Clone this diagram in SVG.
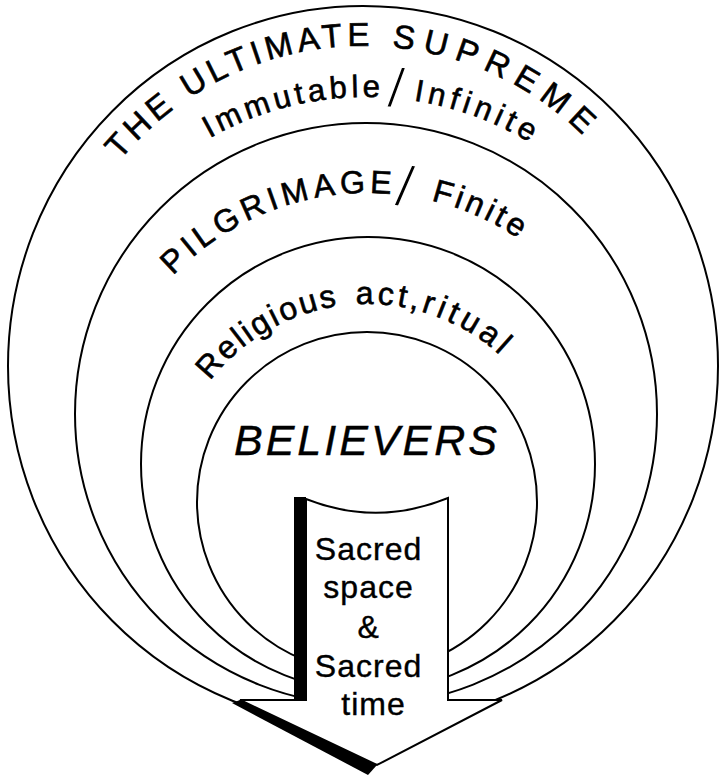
<svg xmlns="http://www.w3.org/2000/svg" width="720" height="776" viewBox="0 0 720 776">
<style>
.ring{fill:none;stroke:#000;stroke-width:2}
.lbl{font-family:"Liberation Sans",Arial,Helvetica,sans-serif;fill:#000;stroke:#000;stroke-width:0.6px}
.arc33{font-size:33px}
.arc31{font-size:31px}
.arc32{font-size:32px}
.slash{stroke:#fff;stroke-width:1.4px}
.big{font-size:43px;font-style:italic;letter-spacing:3px;stroke-width:0.4px}
.inner{font-size:32px;letter-spacing:1px;stroke-width:0.4px}
.shadow{fill:#000;stroke:none}
.arrowbody{fill:#fff;stroke:#000;stroke-width:2;stroke-linejoin:miter}
</style>
<defs>
<path id="p1" d="M 48 361 A 315 315 0 0 1 678 361"/>
<path id="p2" d="M 49 414 A 317 317 0 0 1 683 414"/>
<path id="p3" d="M 97 464 A 271 271 0 0 1 639 464"/>
<path id="p4" d="M 169 502 A 198 198 0 0 1 565 502"/>
</defs>
<rect width="720" height="776" fill="#fff"/>

<g id="ring-supreme">
<ellipse class="ring" cx="363" cy="366" rx="355" ry="360"/>
<text class="lbl arc33"><textPath href="#p1" startOffset="217"><tspan letter-spacing="4.6">THE ULTIMATE</tspan><tspan letter-spacing="8.5"> SUPREME</tspan></textPath></text>
<text class="lbl arc31"><textPath href="#p2" startOffset="334"><tspan letter-spacing="4.1">Immutable</tspan><tspan class="slash" font-size="56" baseline-shift="-9" dx="3.7" letter-spacing="-2.9">/</tspan><tspan letter-spacing="4.7"> Infinite</tspan></textPath></text>
</g>

<g id="ring-pilgrimage">
<circle class="ring" cx="366" cy="414" r="291"/>
<text class="lbl arc32"><textPath href="#p3" startOffset="208"><tspan letter-spacing="4.6">PILGRIMAGE</tspan><tspan class="slash" font-size="58" baseline-shift="-11" letter-spacing="7.2">/</tspan><tspan letter-spacing="3.5"> Finite</tspan></textPath></text>
</g>

<g id="ring-ritual">
<circle class="ring" cx="368" cy="464" r="227"/>
<text class="lbl arc32"><textPath href="#p4" startOffset="130"><tspan letter-spacing="2.4">Religious</tspan><tspan dx="4" letter-spacing="3.5"> act,</tspan><tspan letter-spacing="4.3">ritual</tspan></textPath></text>
</g>

<g id="ring-believers">
<circle class="ring" cx="367" cy="502" r="170"/>
<text class="lbl big" x="367" y="455" text-anchor="middle">BELIEVERS</text>
</g>

<g id="arrow">
<rect class="shadow" x="294" y="497" width="12" height="205"/>
<polygon class="shadow" points="240,700 377,765 368,775 232,703"/>
<path class="arrowbody" d="M306,499 Q377,527 448,498 L448,700 L502,700 L377,765 L240,700 L306,700 Z"/>
<text class="lbl inner" text-anchor="middle">
<tspan x="373.5" y="560">Sacred</tspan>
<tspan x="373.5" y="598">space</tspan>
<tspan x="373.5" y="638">&amp;</tspan>
<tspan x="373.5" y="677">Sacred</tspan>
<tspan x="373.5" y="715">time</tspan>
</text>
</g>

<g id="connectors"/>
</svg>
